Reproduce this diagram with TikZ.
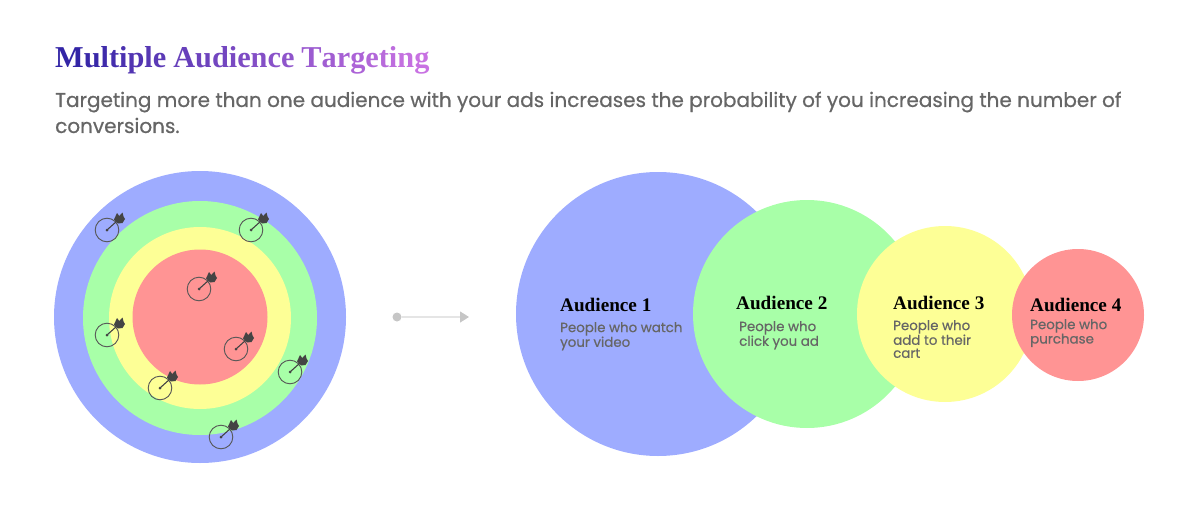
\documentclass[tikz,border=0pt]{standalone}
\usepackage{xcolor}
\usepackage{fontspec}
\setmainfont{Poppins}
\newfontfamily\headfont{Liberation Serif}[BoldFont={Liberation Serif Bold}]
\usetikzlibrary{arrows.meta}

\definecolor{ringblue}{HTML}{9EACFF}
\definecolor{ringgreen}{HTML}{A8FFA8}
\definecolor{ringyellow}{HTML}{FDFF96}
\definecolor{ringred}{HTML}{FF9494}
\definecolor{titlestart}{HTML}{3325A6}
\definecolor{titleend}{HTML}{C872E2}
\definecolor{bodygray}{HTML}{666666}
\definecolor{dartgray}{HTML}{444444}

\newcommand{\titlegap}{\hskip 7pt}

\tikzset{
    disc/.style={circle, inner sep=0pt, minimum size=#1},
    audname/.style={anchor=base west, inner sep=0pt, font=\headfont\bfseries\fontsize{19.2}{20}\selectfont},
    audtext/.style={anchor=north west, inner sep=0pt, align=left, text=bodygray, font=\addfontfeature{FakeBold=0.6}\fontsize{13.4}{13}\selectfont},
    target/.pic={
        \draw[dartgray!90, line width=0.9pt] (0,0) circle (11.8);
        \fill[dartgray] (0,0) circle (1.5);
        \draw[dartgray, line width=1.1pt] (0,0) -- (10,-9);
        \fill[dartgray] (7,-10.5) -- (10,-17) -- (12.3,-14) -- (15.5,-17.5) -- (16.5,-13.5)
            -- (18,-11) -- (15.5,-7) -- (11,-6.5) -- cycle;
    }
}

\begin{document}
\begin{tikzpicture}[x=1pt, y=-1pt]
    \useasboundingbox (0,0) rectangle (1200,511);

    % Heading
    \node[anchor=base west, inner sep=0pt, font=\headfont\bfseries\fontsize{30.3}{32}\selectfont] (title) at (55,68) {%
        \foreach \ch [count=\i] in {M,u,l,t,i,p,l,e,\titlegap,A,u,d,i,e,n,c,e,\titlegap,T,a,r,g,e,t,i,n,g}{%
            \pgfmathtruncatemacro{\mixval}{100-(\i-1)*100/26}%
            \textcolor{titlestart!\mixval!titleend}{\ch}}};
    \node[anchor=north west, inner sep=0pt, align=left, text=bodygray, font=\addfontfeature{FakeBold=0.6}\fontsize{20}{26}\selectfont] (intro) at (55,91.5)
        {Targeting more than one audience with your ads increases the probability of you increasing the number of\\conversions.};

    % Nested rings
    \node[disc=292, fill=ringblue] (ringA) at (200,317) {};
    \node[disc=234, fill=ringgreen] (ringB) at (200,318) {};
    \node[disc=182, fill=ringyellow] (ringC) at (200,318) {};
    \node[disc=135, fill=ringred] (ringD) at (200,317) {};

    % Darts
    \foreach \px/\py in {107/230, 251/230, 199/289, 107/335, 236/349, 290/372, 160/388, 221/437}
        \pic at (\px,\py) {target};

    % Link between the two halves
    \node[circle, fill=gray!45, inner sep=0pt, minimum size=9] (linkdot) at (397,317) {};
    \coordinate (linkend) at (469,317);
    \draw[gray!20, line width=1.2pt, -{Triangle[length=9pt, width=11pt, color=gray!45]}] (linkdot) -- (linkend);

    % Audience circles
    \node[disc=284, fill=ringblue] (audA) at (658,314) {};
    \node[disc=228, fill=ringgreen] (audB) at (807,314) {};
    \node[disc=176, fill=ringyellow] (audC) at (945,314) {};
    \node[disc=132, fill=ringred] (audD) at (1078,315) {};

    % Audience labels
    \node[audname] (nameA) at (560,311) {Audience 1};
    \node[audtext] (textA) at (560,322) {People who watch\\your video};
    \node[audname] (nameB) at (736,309) {Audience 2};
    \node[audtext] (textB) at (739,321) {People who\\click you ad};
    \node[audname] (nameC) at (893,309) {Audience 3};
    \node[audtext] (textC) at (893,320) {People who\\add to their\\cart};
    \node[audname] (nameD) at (1030,311) {Audience 4};
    \node[audtext] (textD) at (1030,319) {People who\\purchase};
\end{tikzpicture}
\end{document}
